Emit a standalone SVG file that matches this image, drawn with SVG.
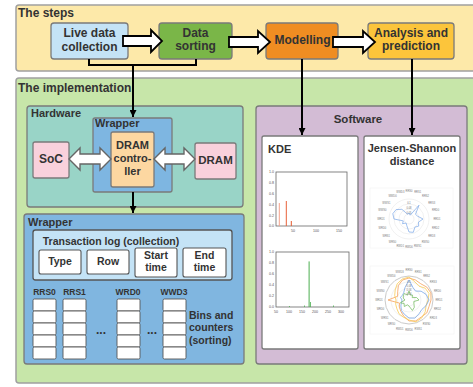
<svg xmlns="http://www.w3.org/2000/svg" width="473" height="387" viewBox="0 0 473 387">
  <style>
    .t { font-family: "Liberation Sans", Arial, sans-serif; font-weight: bold; fill: #333; }
    .box { stroke: #7a7a7a; stroke-width: 1.3; }
    .cell { fill: #fff; stroke: #555; stroke-width: 1.1; }
    .bin { fill: #fff; stroke: #555; stroke-width: 0.9; }
    .conn { fill: none; stroke: #000; stroke-width: 2; }
    .blk { fill: #fff; stroke: #000; stroke-width: 1.8; }
    .dbl { fill: #fff; stroke: #666; stroke-width: 1.4; }
    .tick { font-family: "Liberation Sans", Arial, sans-serif; font-size: 3.6px; fill: #555; }
    .rl { font-family: "Liberation Sans", Arial, sans-serif; font-size: 2.6px; fill: #777; text-anchor: middle; }
    .grid { fill: none; stroke: #e2e2e2; stroke-width: 0.5; }
  </style>
  <defs>
    <marker id="ah" viewBox="0 0 10 10" refX="10" refY="5" markerWidth="7" markerHeight="7" markerUnits="userSpaceOnUse" orient="auto">
      <path d="M0,0 L10,5 L0,10 Z" fill="#000"/>
    </marker>
  </defs>

  <!-- Stage band -->
  <g id="steps">
    <rect x="16" y="5" width="470" height="66" rx="3" fill="#fde9a9" stroke="#a0a0a0" stroke-width="1.5"/>
    <text class="t" x="18" y="17" font-size="12">The steps</text>
  </g>

  <!-- Implementation band -->
  <g id="implementation">
    <rect x="16" y="78" width="470" height="305" rx="3" fill="#c7e6a9" stroke="#a0a0a0" stroke-width="1.5"/>
    <text class="t" x="18" y="92" font-size="12">The implementation</text>
  </g>

  <g id="step-collection">
    <rect class="box" x="51" y="23" width="77" height="36" rx="3" fill="#c4e3f6"/>
    <text class="t" font-size="12" text-anchor="middle"><tspan x="89.5" y="37">Live data</tspan><tspan x="89.5" y="50.5">collection</tspan></text>
  </g>
  <g id="step-sorting">
    <rect class="box" x="159" y="23" width="73" height="36" rx="3" fill="#7ab648"/>
    <text class="t" font-size="12" text-anchor="middle"><tspan x="195.5" y="36.5">Data</tspan><tspan x="195.5" y="50">sorting</tspan></text>
  </g>
  <g id="step-modelling">
    <rect class="box" x="266" y="23" width="72" height="36" rx="3" fill="#ef8d22"/>
    <text class="t" x="302.5" y="43.5" font-size="12" text-anchor="middle">Modelling</text>
  </g>
  <g id="step-analysis">
    <rect class="box" x="368" y="23" width="86" height="36" rx="3" fill="#fcc53b"/>
    <text class="t" font-size="12" text-anchor="middle"><tspan x="411" y="36.5">Analysis and</tspan><tspan x="411" y="50">prediction</tspan></text>
  </g>

  <!-- Hardware -->
  <g id="hardware">
    <rect class="box" x="27" y="106" width="216" height="101" rx="3" fill="#99d4c7"/>
    <text class="t" x="31" y="117" font-size="11">Hardware</text>
  </g>
  <g id="hw-wrapper">
    <rect class="box" x="93" y="118" width="79" height="74" rx="2" fill="#7eb6e1"/>
    <text class="t" x="95" y="127" font-size="11">Wrapper</text>
  </g>
  <g id="dram-controller">
    <rect class="box" x="111" y="132" width="43" height="55" rx="2" fill="#fdd7a1"/>
    <text class="t" font-size="11" text-anchor="middle"><tspan x="132.5" y="149">DRAM</tspan><tspan x="132.5" y="162">contro-</tspan><tspan x="132.5" y="175">ller</tspan></text>
  </g>
  <g id="soc">
    <rect class="box" x="33" y="142" width="36" height="36" rx="2" fill="#f9d1dc"/>
    <text class="t" x="51" y="163" font-size="12" text-anchor="middle">SoC</text>
  </g>
  <g id="dram">
    <rect class="box" x="195" y="143" width="41" height="36" rx="2" fill="#f9d1dc"/>
    <text class="t" x="215.5" y="164" font-size="11.5" text-anchor="middle">DRAM</text>
  </g>

  <!-- Collection / sorting wrapper -->
  <g id="wrapper">
    <rect class="box" x="24" y="214" width="220" height="150" rx="3" fill="#80b6e0"/>
    <text class="t" x="28" y="226" font-size="11">Wrapper</text>
  </g>
  <g id="transaction-log">
    <rect x="33" y="230" width="199" height="50" rx="2.5" fill="#c4e3f6" stroke="#555" stroke-width="1.3"/>
    <text class="t" x="111" y="245" font-size="10.5" text-anchor="middle">Transaction log (collection)</text>
    <rect class="cell" x="39" y="250" width="42" height="24" rx="2"/>
    <text class="t" x="60" y="265" font-size="10.5" text-anchor="middle">Type</text>
    <rect class="cell" x="87" y="250" width="42" height="24" rx="2"/>
    <text class="t" x="108" y="264.5" font-size="10.5" text-anchor="middle">Row</text>
    <rect class="cell" x="135" y="248" width="42" height="29" rx="2"/>
    <text class="t" font-size="10.5" text-anchor="middle"><tspan x="156" y="258.5">Start</tspan><tspan x="156" y="271">time</tspan></text>
    <rect class="cell" x="183" y="248" width="43" height="29" rx="2"/>
    <text class="t" font-size="10.5" text-anchor="middle"><tspan x="204.5" y="258.5">End</tspan><tspan x="204.5" y="271">time</tspan></text>
  </g>
  <g id="bins">
    <text class="t" x="44.5" y="295" font-size="8.5" text-anchor="middle">RRS0</text>
    <text class="t" x="74.5" y="295" font-size="8.5" text-anchor="middle">RRS1</text>
    <text class="t" x="128" y="295" font-size="8.5" text-anchor="middle">WRD0</text>
    <text class="t" x="174" y="295" font-size="8.5" text-anchor="middle">WWD3</text>
    <g>
      <rect class="bin" x="33" y="299" width="23" height="12" rx="1.5"/>
      <rect class="bin" x="33" y="311" width="23" height="12" rx="1.5"/>
      <rect class="bin" x="33" y="323" width="23" height="12" rx="1.5"/>
      <rect class="bin" x="33" y="335" width="23" height="12" rx="1.5"/>
      <rect class="bin" x="33" y="347" width="23" height="12" rx="1.5"/>
      <rect class="bin" x="63" y="299" width="23" height="12" rx="1.5"/>
      <rect class="bin" x="63" y="311" width="23" height="12" rx="1.5"/>
      <rect class="bin" x="63" y="323" width="23" height="12" rx="1.5"/>
      <rect class="bin" x="63" y="335" width="23" height="12" rx="1.5"/>
      <rect class="bin" x="63" y="347" width="23" height="12" rx="1.5"/>
      <rect class="bin" x="117" y="299" width="23" height="12" rx="1.5"/>
      <rect class="bin" x="117" y="311" width="23" height="12" rx="1.5"/>
      <rect class="bin" x="117" y="323" width="23" height="12" rx="1.5"/>
      <rect class="bin" x="117" y="335" width="23" height="12" rx="1.5"/>
      <rect class="bin" x="117" y="347" width="23" height="12" rx="1.5"/>
      <rect class="bin" x="163" y="299" width="23" height="12" rx="1.5"/>
      <rect class="bin" x="163" y="311" width="23" height="12" rx="1.5"/>
      <rect class="bin" x="163" y="323" width="23" height="12" rx="1.5"/>
      <rect class="bin" x="163" y="335" width="23" height="12" rx="1.5"/>
      <rect class="bin" x="163" y="347" width="23" height="12" rx="1.5"/>
    </g>
    <text class="t" x="101" y="334" font-size="12" text-anchor="middle">...</text>
    <text class="t" x="152" y="334" font-size="12" text-anchor="middle">...</text>
    <text class="t" font-size="10.5"><tspan x="189" y="318.5">Bins and</tspan><tspan x="189" y="331">counters</tspan><tspan x="189" y="343.5">(sorting)</tspan></text>
  </g>

  <!-- Software -->
  <g id="software">
    <rect class="box" x="256" y="106" width="211" height="258" rx="3" fill="#d3bcd5"/>
    <text class="t" x="358" y="123" font-size="11.5" text-anchor="middle" fill="#444">Software</text>
  </g>

  <g id="kde">
    <rect class="box" x="262" y="136" width="96" height="213" rx="2" fill="#fff"/>
    <text class="t" x="268" y="153" font-size="11">KDE</text>
    <!-- upper density plot -->
    <rect x="276" y="172" width="71" height="54" fill="none" stroke="#666" stroke-width="0.8"/>
    <g class="tick" text-anchor="end">
      <text x="274" y="173.3">1.0</text><text x="274" y="184.1">0.8</text><text x="274" y="194.9">0.6</text>
      <text x="274" y="205.7">0.4</text><text x="274" y="216.5">0.2</text><text x="274" y="227.3">0.0</text>
    </g>
    <g class="tick" text-anchor="middle">
      <text x="293" y="232">50</text><text x="316" y="232">100</text><text x="339" y="232">150</text>
    </g>
    <rect x="278.8" y="203" width="1" height="23" fill="#f4a28c"/>
    <rect x="285.8" y="201" width="1" height="25" fill="#e8613a"/>
    <rect x="290.8" y="221" width="1" height="5" fill="#e55a2d"/>
    <!-- lower density plot -->
    <rect x="276" y="252" width="73" height="55" fill="none" stroke="#666" stroke-width="0.8"/>
    <g class="tick" text-anchor="end">
      <text x="274" y="253.3">1.0</text><text x="274" y="264.3">0.8</text><text x="274" y="275.3">0.6</text>
      <text x="274" y="286.3">0.4</text><text x="274" y="297.3">0.2</text><text x="274" y="308.3">0.0</text>
    </g>
    <g class="tick" text-anchor="middle">
      <text x="276" y="313">50</text><text x="289" y="313">100</text><text x="302" y="313">150</text>
      <text x="315" y="313">200</text><text x="328" y="313">250</text><text x="341" y="313">300</text>
    </g>
    <rect x="308.6" y="261.4" width="1" height="45.6" fill="#4caf50"/>
    <rect x="310" y="302" width="0.8" height="5" fill="#4caf50"/>
    <rect x="304" y="305.5" width="0.8" height="1.5" fill="#4caf50"/>
    <rect x="333" y="305.5" width="0.8" height="1.5" fill="#4caf50"/>
    <rect x="289" y="306" width="0.8" height="1" fill="#4caf50"/>
  </g>

  <g id="jensen-shannon">
    <rect class="box" x="364" y="136" width="96" height="213" rx="2" fill="#fff"/>
    <text class="t" font-size="11" text-anchor="middle"><tspan x="412" y="152">Jensen-Shannon</tspan><tspan x="412" y="164.5">distance</tspan></text>

    <!-- upper radar chart -->
    <rect x="370" y="188" width="83" height="60" fill="none" stroke="#f0f0f0" stroke-width="0.5"/>
    <circle class="grid" cx="409" cy="219" r="5"/>
    <circle class="grid" cx="409" cy="219" r="10"/>
    <circle class="grid" cx="409" cy="219" r="15"/>
    <circle class="grid" cx="409" cy="219" r="20"/>
    <g class="rl">
      <text x="409" y="204">0.1</text><text x="409" y="209">0.08</text><text x="409" y="214">0.05</text>
    </g>
    <polygon points="409,213 410.2,215.2 419,205.2 415.5,214.3 417.6,216.2 423,219 418.5,222.1 418.7,226.1 414.9,227.1 413.3,232.3 409,232 406.8,225.7 406.1,223 402.5,223.7 403.3,220.9 394,219 392.8,213.7 396.1,209.6 401.9,209.3 407.5,214.2" fill="none" stroke="#7aa6e6" stroke-width="0.7"/>
    <g class="rl">
      <text x="409" y="192">RRS0</text><text x="417.7" y="193.4">RRS1</text><text x="425.5" y="197.3">RRS2</text>
      <text x="431.7" y="203.5">RRS3</text><text x="435.6" y="211.3">RRD0</text><text x="437" y="220">RRD1</text>
      <text x="435.6" y="228.7">RRD2</text><text x="431.7" y="236.5">RRD3</text><text x="425.5" y="242.7">RWS0</text>
      <text x="417.7" y="246.6">RWS1</text><text x="409" y="248">RWD0</text><text x="400.3" y="246.6">RWD1</text>
      <text x="392.5" y="242.7">WRS0</text><text x="386.3" y="236.5">WRS1</text><text x="382.4" y="228.7">WRD0</text>
      <text x="381" y="220">WRD1</text><text x="382.4" y="211.3">WWS0</text><text x="386.3" y="203.5">WWS1</text>
      <text x="392.5" y="197.3">WWD0</text><text x="400.3" y="193.4">WWD3</text>
    </g>

    <!-- lower radar chart -->
    <rect x="370" y="266" width="84" height="68" fill="none" stroke="#f0f0f0" stroke-width="0.5"/>
    <circle class="grid" cx="409" cy="300" r="6"/>
    <circle class="grid" cx="409" cy="300" r="12"/>
    <circle class="grid" cx="409" cy="300" r="18"/>
    <polygon points="409,276 416.4,277.2 423.1,280.6 428.4,285.9 431.8,292.6 433,300 431.8,307.4 428.4,314.1 423.1,319.4 416.4,322.8 409,324 401.6,322.8 394.9,319.4 389.6,314.1 386.2,307.4 385,300 386.2,292.6 389.6,285.9 394.9,280.6 401.6,277.2" fill="none" stroke="#bdbdbd" stroke-width="0.8"/>
    <polygon points="409,278 415.5,280 420.8,283.8 426.8,287.1 430.9,292.9 431,300 429,306.5 426.8,312.9 421.3,317 415.8,320.9 409,321 403.7,316.2 400.8,311.3 399.3,307.1 399.5,303.1 388,300 397.6,296.3 397.7,291.8 398.4,285.4 402.5,280" fill="none" stroke="#f5a05a" stroke-width="0.8"/>
    <polygon points="409,277 414.9,281.9 419,286.2 425.2,288.2 429,293.5 428,300 426.1,305.6 425.2,311.8 421.9,317.8 416.1,321.9 409,320 403.4,317.1 399,313.8 396.9,308.8 395.7,304.3 396,300 394.7,295.4 395.2,290 397.2,283.8 402.2,279.1" fill="none" stroke="#f7cc55" stroke-width="0.8"/>
    <polygon points="409,280 413,287.6 415.5,291.1 421.1,291.2 426.1,294.4 429,300 426.1,305.6 421.9,309.4 419,313.8 414.9,318.1 409,318 404.4,314.3 401.4,310.5 400.9,305.9 401.4,302.5 402,300 400.4,297.2 402.5,295.3 403.7,292.7 405,287.6" fill="none" stroke="#7aa6e6" stroke-width="0.8"/>
    <polygon points="409,291 410.5,295.2 412.5,295.1 412.2,297.6 416.6,297.5 419,300 413.8,301.5 413.9,303.5 414.3,307.3 412.4,310.5 409,306 407.5,304.8 404.3,306.5 404.1,303.5 400.4,302.8 405,300 403.3,298.1 403.3,295.9 404.3,293.5 407.5,295.2" fill="none" stroke="#7cc06a" stroke-width="0.8"/>
    <g class="rl">
      <text x="409" y="283">0.1</text><text x="409" y="287">0.08</text><text x="409" y="291">0.06</text><text x="409" y="295">0.04</text>
    </g>
    <g class="rl">
      <text x="409" y="271">RRS0</text><text x="418.3" y="272.5">RRS1</text><text x="426.6" y="276.7">RRS2</text>
      <text x="433.3" y="283.4">RRS3</text><text x="437.5" y="291.7">RRD0</text><text x="439" y="301">RRD1</text>
      <text x="437.5" y="310.3">RRD2</text><text x="433.3" y="318.6">RRD3</text><text x="426.6" y="325.3">RWS0</text>
      <text x="418.3" y="329.5">RWS1</text><text x="409" y="331">RWD0</text><text x="399.7" y="329.5">RWD1</text>
      <text x="391.4" y="325.3">WRS0</text><text x="384.7" y="318.6">WRS1</text><text x="380.5" y="310.3">WRD0</text>
      <text x="379" y="301">WRD1</text><text x="380.5" y="291.7">WWS0</text><text x="384.7" y="283.4">WWS1</text>
      <text x="391.4" y="276.7">WWD0</text><text x="399.7" y="272.5">WWD3</text>
    </g>
  </g>

  <!-- Connectors -->
  <g id="connectors">
    <path class="conn" d="M89,59 V65 H196 V59"/>
    <path class="conn" d="M133,65 V117" marker-end="url(#ah)"/>
    <path class="conn" d="M133,192 V213" marker-end="url(#ah)"/>
    <path class="conn" d="M302,59 V135" marker-end="url(#ah)"/>
    <path class="conn" d="M412,59 V135" marker-end="url(#ah)"/>
    <path class="blk" d="M123,36 H151 V30 L162,41 L151,52 V46 H123 Z"/>
    <path class="blk" d="M229,37 H258 V31 L270,42 L258,53 V47 H229 Z"/>
    <path class="blk" d="M333,37 H363 V31 L375,42 L363,53 V47 H333 Z"/>
    <path class="dbl" d="M69,159 L80,148 V154 H100 V148 L111,159 L100,170 V164 H80 V170 Z"/>
    <path class="dbl" d="M154,159 L165,148 V154 H184 V148 L195,159 L184,170 V164 H165 V170 Z"/>
  </g>
</svg>
